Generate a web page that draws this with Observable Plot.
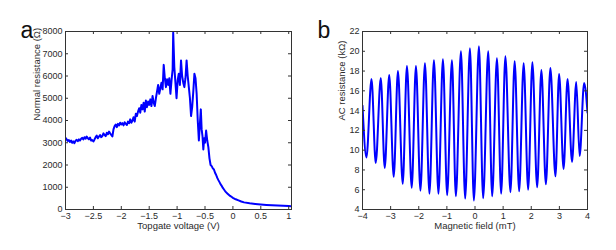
<!DOCTYPE html>
<html>
<head>
<meta charset="utf-8">
<script src="https://cdn.jsdelivr.net/npm/d3@7"></script>
<script src="https://cdn.jsdelivr.net/npm/@observablehq/plot@0.6"></script>
<style>
  html, body { margin: 0; padding: 0; background: #fff; }
  #wrap { position: relative; width: 616px; height: 250px; overflow: hidden; }
  #pa, #pb { position: absolute; top: 0; }
  #pa { left: 0; }
  #pb { left: 300px; }
</style>
</head>
<body>
<div id="wrap"><div id="pa"></div><div id="pb"></div></div>
<script>
// ---------- Panel a data ----------
const aVoltage = [
  -3.00,-2.98,-2.96,-2.94,-2.92,-2.90,-2.88,-2.86,-2.84,-2.82,-2.80,-2.78,-2.76,-2.74,-2.72,-2.70,
  -2.68,-2.66,-2.64,-2.62,-2.60,-2.58,-2.56,-2.54,-2.52,-2.50,-2.48,-2.46,-2.44,-2.42,-2.40,-2.38,
  -2.36,-2.34,-2.32,-2.30,-2.28,-2.26,-2.24,-2.22,-2.20,-2.18,-2.16,-2.14,-2.12,-2.10,-2.08,-2.06,
  -2.04,-2.02,-2.00,-1.98,-1.96,-1.94,-1.92,-1.90,-1.88,-1.86,-1.84,-1.82,-1.80,-1.78,-1.76,-1.74,
  -1.72,-1.70,-1.68,-1.66,-1.64,-1.62,-1.60,-1.58,-1.56,-1.54,-1.52,-1.50,-1.48,-1.46,-1.44,-1.42,
  -1.40,-1.38,-1.36,-1.34,-1.32,-1.30,-1.28,-1.26,-1.24,-1.22,-1.20,-1.18,-1.16,-1.14,-1.12,-1.10,
  -1.08,-1.07,-1.05,-1.03,-1.01,-0.99,-0.97,-0.95,-0.93,-0.91,-0.89,-0.87,-0.85,-0.83,-0.81,-0.79,
  -0.77,-0.75,-0.73,-0.71,-0.69,-0.67,-0.65,-0.63,-0.61,-0.595,-0.575,-0.56,-0.545,-0.53,-0.515,-0.50,
  -0.48,-0.46,-0.44,-0.42,-0.40,-0.38,-0.36,-0.34,-0.32,-0.30,-0.28,-0.26,-0.24,-0.22,-0.20,-0.18,
  -0.16,-0.14,-0.12,-0.10,-0.08,-0.05,-0.02,0.00,0.05,0.10,0.15,0.20,0.30,0.40,0.50,0.60,
  0.70,0.80,0.90,1.00,1.05
];
const aResistance = [
  3220,3150,3080,3120,3040,3100,3000,3060,2980,3090,3130,3070,3150,3100,3180,3220,
  3150,3250,3180,3280,3200,3150,3230,3100,3120,3060,3150,3250,3320,3200,3280,3350,
  3250,3300,3420,3350,3300,3450,3380,3500,3420,3350,3280,3600,3750,3820,3700,3850,
  3780,3900,3820,3880,3780,3920,3850,3800,3950,3880,4050,3900,4000,4150,3950,4300,
  4200,4400,4550,4350,4700,4500,4800,4400,4900,4600,4850,4700,4950,4650,5100,4800,
  4650,5000,5300,5600,5200,5450,5700,5400,6500,5900,5500,5850,5600,5900,5200,5800,
  6300,7950,6400,5700,5000,5800,6100,5600,6700,6000,5700,5500,5900,6700,6000,5500,
  5000,4200,4600,5300,6100,5900,5200,4000,3100,3700,4500,3600,3300,2700,3200,3000,
  3550,3100,2800,2300,2000,1950,1850,1800,1650,1550,1420,1320,1230,1130,1060,970,
  900,830,770,720,675,610,560,525,460,410,360,320,280,250,225,205,
  190,180,165,155,150
];
const aXTicks = [-3,-2.5,-2,-1.5,-1,-0.5,0,0.5,1];
const aYTicks = [0,1000,2000,3000,4000,5000,6000,7000,8000];

// ---------- Panel b data ----------
const bField = [
  -4.00,-3.86,-3.68,-3.53,-3.35,-3.21,-3.05,-2.89,-2.74,-2.57,-2.42,-2.25,-2.10,-1.94,-1.78,-1.62,
  -1.46,-1.30,-1.14,-0.99,-0.82,-0.68,-0.50,-0.35,-0.18,-0.04,0.14,0.29,0.47,0.61,0.78,0.93,
  1.08,1.26,1.41,1.57,1.73,1.89,2.04,2.21,2.36,2.52,2.68,2.86,2.99,3.15,3.29,3.45,
  3.60,3.72,3.88,4.00
];
const bResistance = [
  14.5,9.27,17.2,8.7,17.3,8.2,17.6,7.3,18.0,6.6,18.5,6.2,18.5,5.9,18.8,5.6,
  19.1,5.6,19.2,5.45,19.1,5.35,20.0,5.1,20.3,4.9,20.5,5.15,20.0,5.35,19.3,5.6,
  19.5,5.75,19.0,5.85,18.8,6.0,18.9,6.25,18.1,6.55,18.3,7.35,17.7,8.1,17.2,8.8,
  16.9,9.4,16.8,13.8
];
const bXTicks = [-4,-3,-2,-1,0,1,2,3,4];
const bYTicks = [4,6,8,10,12,14,16,18,20,22];

const aData = aVoltage.map((v, i) => ({v, r: aResistance[i]}));
const bData = bField.map((f, i) => ({f, r: bResistance[i]}));

const FONT = '"Liberation Sans", Arial, Helvetica, sans-serif';
const AXIS = "#333";
const TXT = "#2a2a2a";
const fmt = d => (d < 0 ? "\u2212" + Math.abs(d) : String(d));

function panel({width, ml, mr, xDomain, yDomain, xTicks, yTicks, data, x, y, xLabel, yLabel, yLabelDx, letter, curve, strokeWidth}) {
  const mt = 31, mb = 41, height = 250;
  const fw = width - ml - mr, fh = height - mt - mb;
  const tl = 3;
  return Plot.plot({
    width, height, marginLeft: ml, marginRight: mr, marginTop: mt, marginBottom: mb,
    style: {fontFamily: FONT, fontSize: "9px", color: TXT, background: "#fff"},
    x: {domain: xDomain},
    y: {domain: yDomain},
    marks: [
      Plot.line(data, {x, y, stroke: "#0000ff", strokeWidth, curve, clip: true}),
      Plot.frame({stroke: AXIS, strokeWidth: 1}),
      Plot.tickX(xTicks, {x: d => d, insetTop: fh - tl, stroke: AXIS}),
      Plot.tickX(xTicks, {x: d => d, insetBottom: fh - tl, stroke: AXIS}),
      Plot.tickY(yTicks, {y: d => d, insetRight: fw - tl, stroke: AXIS}),
      Plot.tickY(yTicks, {y: d => d, insetLeft: fw - tl, stroke: AXIS}),
      Plot.axisX(xTicks, {tickSize: 0, tickPadding: 3, tickFormat: fmt, label: null, fill: TXT, fontSize: 9}),
      Plot.axisY(yTicks, {tickSize: 0, tickPadding: 3, tickFormat: fmt, label: null, fill: TXT, fontSize: 9}),
      Plot.text([xLabel], {frameAnchor: "bottom", text: d => d, dy: 19.5, lineAnchor: "bottom", fontSize: 9.5, fill: TXT}),
      Plot.text([yLabel], {frameAnchor: "left", text: d => d, dx: yLabelDx, rotate: -90, lineAnchor: "middle", fontSize: 9.5, fill: TXT}),
      Plot.text([letter], {frameAnchor: "top-left", text: d => d, dx: -45, dy: 6, textAnchor: "start", lineAnchor: "bottom", fontSize: 23, fill: "#111"})
    ]
  });
}

document.getElementById("pa").append(panel({
  width: 300, ml: 65, mr: 9,
  xDomain: [-3, 1.05], yDomain: [0, 8000],
  xTicks: aXTicks, yTicks: aYTicks,
  data: aData, x: "v", y: "r",
  xLabel: "Topgate voltage (V)", yLabel: "Normal resistance (\u03A9)", yLabelDx: -29, letter: "a",
  curve: "linear", strokeWidth: 2
}));

document.getElementById("pb").append(panel({
  width: 316, ml: 62, mr: 29,
  xDomain: [-4, 4], yDomain: [4, 22],
  xTicks: bXTicks, yTicks: bYTicks,
  data: bData, x: "f", y: "r",
  xLabel: "Magnetic field (mT)", yLabel: "AC resistance (k\u03A9)", yLabelDx: -21, letter: "b",
  curve: "monotone-x", strokeWidth: 2
}));
</script>
</body>
</html>
